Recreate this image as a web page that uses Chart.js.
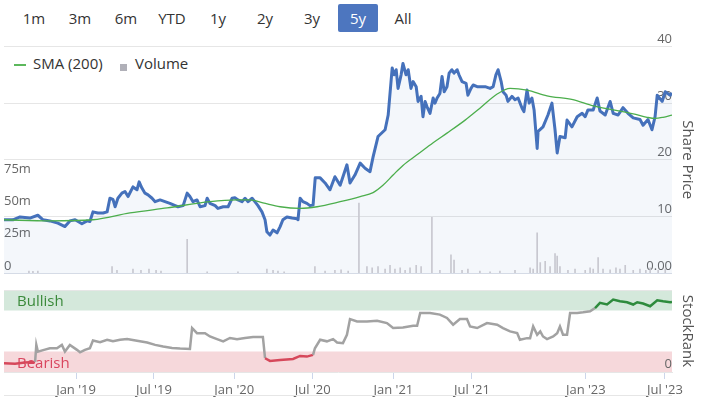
<!DOCTYPE html>
<html lang="en">
<head>
<meta charset="UTF-8">
<title>Share Price - 5y</title>
<script src="https://cdn.jsdelivr.net/npm/chart.js"></script>
<style>
    body { margin: 0; width: 704px; height: 397px; overflow: hidden; position: relative; background: #fff; font-family: "Open Sans", sans-serif; }
    .botoes span { position: absolute; top: 4px; height: 28px; line-height: 28px; width: 40px; text-align: center; font-size: 15px; color: #333; }
    .botoes span.ativo { background: #4d76bf; color: #fff; border-radius: 2px; }
    .legenda { position: absolute; top: 53px; height: 20px; line-height: 20px; font-size: 15px; color: #333; }
    .caixa { position: absolute; left: 0; width: 704px; }
</style>
</head>
<body>
    <div class="botoes">
        <span style="left:14px">1m</span>
        <span style="left:60px">3m</span>
        <span style="left:106px">6m</span>
        <span style="left:152px">YTD</span>
        <span style="left:198px">1y</span>
        <span style="left:245px">2y</span>
        <span style="left:292px">3y</span>
        <span class="ativo" style="left:338px">5y</span>
        <span style="left:383px">All</span>
    </div>

    <div class="legenda" style="left:14px"><span style="display:inline-block;width:12px;height:2px;background:#5cb85c;vertical-align:middle;margin-right:7px"></span>SMA (200)</div>
    <div class="legenda" style="left:120px"><span style="display:inline-block;width:7px;height:7px;background:#b0b0b8;vertical-align:-2px;margin-right:8px"></span>Volume</div>

    <div class="caixa" style="top:30px;height:253px"><canvas id="grafPreco"></canvas></div>
    <div class="caixa" style="top:276px;height:126px"><canvas id="grafRank"></canvas></div>
    <div style="position:absolute;left:4px;top:395px;width:668px;height:1px;background:#e6e6e6"></div>

<script>
// weeks counted from the first point (the 2022 gap is left out like the original axis)
var lastWeek = 217;

var priceWeeks = [0, 2.9, 5.2, 8.4, 11.0, 12.7, 14.9, 17.5, 19.8, 21.4, 23.1, 25.3, 27.0,
    27.9, 28.9, 30.5, 32.2, 33.5, 34.4, 35.4, 36.1, 37.0, 38.3,
    39.3, 40.3, 41.9, 43.2, 43.9, 44.8, 45.8, 46.8, 48.1, 49.1,
    50.7, 52.3, 53.9, 55.6, 56.5, 58.2, 59.5, 60.4, 61.4, 62.7,
    63.7, 65.3, 66.0, 66.9, 68.6, 69.5, 71.2, 72.8, 74.1, 75.0,
    76.0, 77.3, 78.3, 79.3, 80.6, 81.5, 82.5, 83.8, 84.8, 85.4,
    86.4, 87.4, 88.7, 89.7, 90.6, 91.9, 93.6, 95.2, 95.5, 96.2,
    97.1, 98.4, 99.4,
    100.4, 101.1, 102.7, 104.3, 105.9, 107.5, 109.2, 111.4, 112.4, 114.0,
    115.7, 117.3, 118.9, 119.9, 121.5,
    123.8, 124.8, 126.1, 126.7, 127.4, 128.0, 129.0, 129.6, 130.6, 131.3,
    132.2, 132.9, 133.9, 134.5, 135.5, 136.1, 136.8, 137.4, 138.4, 139.4,
    140.0, 140.7, 141.6, 142.3, 143.0, 143.9, 144.6, 145.5, 146.2, 147.2,
    147.8, 148.8, 150.1, 150.7, 151.7, 152.4, 153.7, 154.6, 156.3, 157.9,
    158.9, 159.8, 160.5, 161.5, 162.1, 163.1, 163.7, 165.0, 166.0, 167.0,
    168.3, 168.9, 169.9, 170.6, 171.5, 172.2, 173.2, 173.5, 175.1, 176.7,
    178.0, 179.0, 179.7, 180.6, 182.3, 182.9, 184.5, 186.2, 187.8, 188.8,
    189.7, 191.4, 192.7, 193.6, 195.3, 196.9, 197.9, 199.5, 201.1, 202.7,
    204.4, 206.6, 207.6, 209.2, 210.5, 211.5, 212.2, 213.8, 214.8, 216.4,
    217];
var priceValues = [9.4, 9.4, 9.9, 9.7, 10.2, 9.4, 9.2, 8.8, 8.2, 9.2, 9.4, 8.7, 9.2,
    9.1, 10.8, 10.6, 10.6, 10.8, 13.2, 13.0, 11.7, 13.2, 14.1,
    14.4, 13.5, 15.2, 14.7, 16.1, 15.0, 14.1, 13.8, 13.2, 12.6,
    12.9, 12.6, 12.3, 11.9, 11.7, 11.9, 14.1, 13.5, 12.6, 12.9,
    11.7, 11.9, 13.2, 12.3, 11.9, 11.4, 11.7, 11.7, 13.2, 13.3,
    12.9, 12.6, 13.2, 12.6, 13.2, 12.6, 11.9, 10.8, 9.4, 7.3,
    6.7, 7.6, 7.1, 8.2, 9.4, 9.9, 9.7, 9.6, 9.4, 13.2,
    12.6, 12.3, 11.9,
    12.0, 16.8, 16.8, 15.9, 14.7, 17.0, 15.5, 19.1, 15.9, 17.3,
    19.4, 18.5, 17.9, 20.5, 24.1,
    25.3, 27.9, 36.2, 35.0, 35.9, 32.6, 35.0, 37.0, 35.0, 35.9,
    32.6, 33.8, 32.9, 30.3, 31.2, 27.6, 30.3, 29.4, 28.2, 30.9,
    30.0, 30.9, 31.7, 34.7, 32.0, 32.9, 35.3, 35.9, 35.3, 35.9,
    35.0, 33.8, 33.5, 31.4, 32.6, 33.2, 32.9, 32.9, 32.9, 32.6,
    32.9, 35.0, 35.9, 33.8, 32.0, 31.4, 30.3, 31.2, 30.6, 30.9,
    29.1, 28.5, 32.3, 30.0, 30.9, 28.8, 22.0, 25.0, 25.8, 27.9,
    30.0, 25.3, 21.2, 24.1, 23.9, 27.0, 25.8, 27.6, 28.2, 27.6,
    28.8, 28.8, 30.9, 28.6, 27.9, 30.3, 28.2, 27.9, 29.2, 28.2,
    27.4, 27.1, 26.1, 27.1, 25.3, 27.6, 31.4, 30.3, 32.0, 31.4,
    31.8];

var smaWeeks = [0, 14.9, 28.9, 40.9, 53.0, 66.9, 75.7, 79.9, 84.1, 89.7, 96.2, 101.7,
    109.2, 115.7, 119.9, 123.1, 126.4, 129.6, 134.5, 139.4, 143.9, 149.8, 154.6, 160.2,
    164.4, 169.9, 176.4, 184.8, 191.4, 197.9, 204.4, 208.9, 211.5, 214.1, 217];
var smaValues = [9.4, 9.2, 9.4, 10.6, 11.5, 12.6, 12.9, 12.9, 12.4, 11.7, 11.4, 11.7,
    12.6, 13.5, 14.2, 15.5, 17.3, 19.0, 21.0, 23.0, 24.7, 27.0, 29.1, 31.6,
    32.6, 32.3, 31.3, 30.6, 29.5, 28.8, 28.1, 27.5, 27.3, 27.5, 27.9];

// volume in millions
var volumeWeeks = [8.1, 9.4, 11.0, 35.1, 36.7, 41.9, 44.5, 47.1, 49.4, 51.0,
    59.5, 66.0, 76.0, 85.4, 87.4, 89.0, 91.0, 101.0, 104.3, 107.5,
    109.5, 111.8, 115.3, 117.9, 119.6, 121.5, 123.8, 125.4, 127.0, 128.7,
    130.3, 131.9, 133.9, 135.5, 139.0, 141.6, 145.2, 146.2, 148.8, 150.7,
    154.6, 157.9, 161.1, 166.0, 170.9, 171.9, 173.2, 174.2, 175.8, 177.4,
    179.0, 179.7, 180.6, 183.2, 185.5, 188.8, 190.4, 191.4, 193.0, 194.6,
    196.9, 198.8, 200.1, 201.8, 204.4, 206.6, 208.5, 209.9, 212.5, 214.8];
var volumeValues = [1.5, 1.2, 1.5, 5, 2, 3, 2, 3, 2, 1.5,
    26, 1, 1, 3, 2, 1.5, 1, 5, 1.5, 2,
    2.5, 1.5, 54, 5, 4, 5, 3, 6, 3, 4,
    2, 4, 6, 5, 43, 2, 14, 10, 2, 3,
    1.5, 1, 1.5, 2, 4, 3, 31, 8, 9, 5,
    15, 13, 5, 2, 3, 2, 4, 3, 12, 3,
    2.5, 4, 3, 6, 2, 3, 2, 4, 2, 3];

var rankWeeks = [0, 3.6, 6.8, 10.1, 10.5, 11.0, 13.0, 14.9, 17.2, 18.8,
    19.8, 21.4, 23.7, 24.7, 26.3, 27.9, 28.9, 31.2, 33.5, 35.4,
    37.7, 40.0, 43.2, 46.5, 49.1, 51.7, 54.6, 57.2, 60.4, 61.1,
    62.7, 65.3, 66.9, 69.2, 71.2, 73.4, 75.7, 78.3, 80.9, 84.1,
    84.8, 86.4, 89.7, 93.9, 96.2, 98.4, 100.4, 101.0, 102.7, 104.9,
    106.9, 108.2, 110.1, 111.4, 112.4, 114.7, 117.9, 121.2, 124.4, 126.4,
    129.6, 132.9, 134.2, 135.2, 138.4, 141.6, 143.9, 145.9, 148.1, 150.4,
    151.4, 153.7, 156.9, 160.2, 162.1, 164.4, 166.7, 167.6, 169.9, 170.9,
    171.9, 173.2, 174.2, 175.1, 176.4, 178.4, 179.7, 180.6, 181.6, 182.9,
    183.9, 186.2, 188.1, 190.4, 192.0, 193.6, 195.9, 197.9, 200.1, 202.4,
    204.4, 205.7, 207.6, 209.9, 212.2, 214.1, 216.4, 217];
var rankValues = [10.7, 10.2, 11.5, 12.3, 33, 24.9, 27, 29, 29, 33,
    25, 33, 27, 24, 27, 29, 38.4, 36.4, 39.3, 37.4,
    39.3, 40.1, 38.0, 36, 33.1, 31, 29.4, 28.6, 28.2, 53.6,
    47.4, 47.4, 43.3, 40.1, 37.4, 41.5, 40.1, 41.5, 42.7, 42.7,
    16.8, 13.5, 14.7, 15.9, 19.6, 18.8, 20.9, 29, 39.3, 37.4,
    40.1, 36, 35.2, 45.4, 64.6, 61.7, 61.7, 62.6, 59.7, 53.6,
    54.4, 56.4, 56.4, 72, 72, 70, 65.9, 57.7, 64.6, 64.6,
    55.6, 53.6, 59.7, 57.7, 53.6, 49.5, 47.4, 39.3, 41.3, 41.3,
    55.6, 45.4, 49.5, 43.3, 40.1, 43.3, 47.4, 55.6, 45.4, 45.4,
    72, 72, 72.8, 74, 78, 84.3, 82.3, 88.3, 86.3, 85.1,
    82.3, 85.1, 83.5, 80.2, 87.5, 86.3, 85.1, 85.5];

var tickWeeks = [23.4, 48.7, 74.8, 100.3, 126.5, 152.0, 189.0, 214.7];
var tickLabels = ["Jan '19", "Jul '19", "Jan '20", "Jul '20", "Jan '21", "Jul '21", "Jan '23", "Jul '23"];

var bullishFrom = 75;
var bearishTo = 25;

function pares(xs, ys) {
    return xs.map(function (x, i) { return { x: x, y: ys[i] }; });
}

Chart.defaults.font.family = '"Open Sans", sans-serif';
Chart.defaults.font.size = 13;
Chart.defaults.color = '#666';
Chart.defaults.animation = false;

new Chart(document.getElementById('grafPreco'), {
    type: 'line',
    data: {
        datasets: [
            {
                label: 'SMA (200)',
                data: pares(smaWeeks, smaValues),
                yAxisID: 'price',
                borderColor: '#4cae4c',
                borderWidth: 1.3,
                pointRadius: 0,
                cubicInterpolationMode: 'monotone',
                fill: false,
                order: 1
            },
            {
                label: 'Price',
                data: pares(priceWeeks, priceValues),
                yAxisID: 'price',
                borderColor: '#4571bb',
                borderWidth: 3,
                borderJoinStyle: 'round',
                pointRadius: 0,
                tension: 0,
                fill: 'origin',
                backgroundColor: 'rgba(69,113,187,0.06)',
                order: 2
            },
            {
                type: 'bar',
                label: 'Volume',
                data: pares(volumeWeeks, volumeValues),
                yAxisID: 'vol',
                backgroundColor: '#c8c8d0',
                barThickness: 1,
                grouped: false,
                order: 3
            }
        ]
    },
    options: {
        responsive: true,
        maintainAspectRatio: false,
        layout: { padding: { top: 16.5, bottom: 10, left: 4, right: 4 } },
        plugins: {
            legend: { display: false },
            tooltip: { enabled: false },
            filler: { drawTime: 'beforeDatasetsDraw' }
        },
        scales: {
            x: { type: 'linear', display: false, min: 0, max: lastWeek, offset: false },
            vol: {
                position: 'left',
                min: 0,
                max: 175,
                grid: { display: false, drawTicks: false },
                border: { display: false },
                ticks: {
                    mirror: true,
                    padding: 0,
                    stepSize: 25,
                    labelOffset: -7,
                    callback: function (v) { return v === 0 ? '0' : (v <= 75 ? v + 'm' : ''); }
                }
            },
            price: {
                position: 'right',
                min: 0,
                max: 40,
                grid: {
                    drawTicks: false,
                    color: function (c) { return c.tick.value === 0 ? '#d5dbe6' : '#e6e6e6'; }
                },
                border: { display: false },
                ticks: {
                    mirror: true,
                    padding: 0,
                    stepSize: 10,
                    labelOffset: -7,
                    callback: function (v) { return v === 0 ? '0.00' : v; }
                },
                title: { display: true, text: 'Share Price', color: '#555', font: { size: 15 }, padding: { top: 4, bottom: 6 } }
            }
        }
    }
});

// Bullish / Bearish bands, painted before the axes so the "0" label stays visible
const faixas = {
    id: 'faixas',
    beforeDraw(chart) {
        const ctx = chart.ctx;
        const a = chart.chartArea;
        const r = chart.scales.rank;
        const yTop = r.getPixelForValue(100) + 1;
        const yBull = r.getPixelForValue(bullishFrom);
        const yBear = r.getPixelForValue(bearishTo);
        const yZero = r.getPixelForValue(0);
        ctx.save();
        ctx.fillStyle = '#d4e8db';
        ctx.fillRect(a.left, yTop, a.right - a.left, yBull - yTop);
        ctx.fillStyle = '#f6d8db';
        ctx.fillRect(a.left, yBear, a.right - a.left, yZero - yBear);
        ctx.font = '15px "Open Sans", sans-serif';
        ctx.textBaseline = 'middle';
        ctx.fillStyle = '#3b8a3b';
        ctx.fillText('Bullish', a.left + 13, (yTop + yBull) / 2 + 1);
        ctx.fillStyle = '#d9465f';
        ctx.fillText('Bearish', a.left + 13, (yBear + yZero) / 2 + 2);
        ctx.restore();
    }
};

function corSegmento(c) {
    var a = c.p0.parsed.y, b = c.p1.parsed.y;
    if (a < 26 && b < 26) return '#d6485b';
    if (a >= bullishFrom && b >= bullishFrom) return '#2e8b3d';
    return '#a2a2a2';
}

new Chart(document.getElementById('grafRank'), {
    type: 'line',
    data: {
        datasets: [{
            label: 'StockRank',
            data: pares(rankWeeks, rankValues),
            yAxisID: 'rank',
            borderColor: '#a2a2a2',
            borderWidth: 2.5,
            pointRadius: 0,
            tension: 0,
            segment: { borderColor: corSegmento }
        }]
    },
    options: {
        responsive: true,
        maintainAspectRatio: false,
        layout: { padding: { top: 14, bottom: 1.4, left: 4, right: 4 } },
        plugins: { legend: { display: false }, tooltip: { enabled: false } },
        scales: {
            x: {
                type: 'linear',
                min: 0,
                max: lastWeek,
                offset: false,
                afterBuildTicks: function (axis) {
                    axis.ticks = tickWeeks.map(function (w) { return { value: w }; });
                },
                grid: { drawOnChartArea: false, tickLength: 7, color: '#ccd6eb' },
                border: { color: '#e6e6e6' },
                ticks: {
                    autoSkip: false,
                    maxRotation: 0,
                    padding: 3,
                    callback: function (v, i) { return tickLabels[i]; }
                }
            },
            rank: {
                position: 'right',
                min: 0,
                max: 100,
                grid: {
                    drawTicks: false,
                    color: function (c) { return c.tick.value === 100 ? '#e6e6e6' : 'rgba(0,0,0,0)'; }
                },
                border: { display: false },
                ticks: {
                    mirror: true,
                    padding: 0,
                    stepSize: 25,
                    labelOffset: -8,
                    callback: function (v) { return v === 0 ? '0' : ''; }
                },
                title: { display: true, text: 'StockRank', color: '#555', font: { size: 15 }, padding: { top: 4, bottom: 6 } }
            }
        }
    },
    plugins: [faixas]
});
</script>
</body>
</html>
